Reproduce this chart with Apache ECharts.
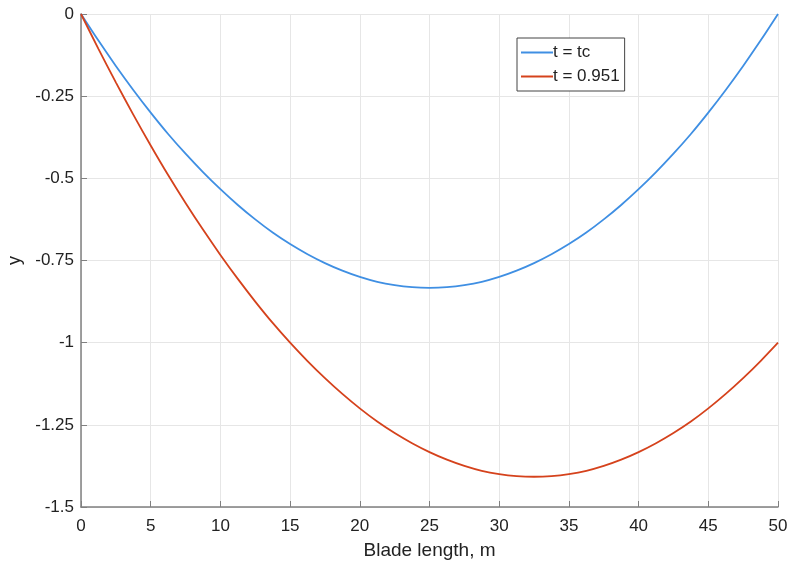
<!DOCTYPE html>
<html><head><meta charset="utf-8">
<script src="https://cdn.jsdelivr.net/npm/echarts@6/dist/echarts.min.js"></script>
<style>html,body{margin:0;padding:0;background:#fff}#c{width:790px;height:568px}</style>
</head><body><div id="c"></div>
<script>
const xValues = [0,1.25,2.5,3.75,5,6.25,7.5,8.75,10,11.25,12.5,13.75,15,16.25,17.5,18.75,20,21.25,22.5,23.75,25,
                 26.25,27.5,28.75,30,31.25,32.5,33.75,35,36.25,37.5,38.75,40,41.25,42.5,43.75,45,46.25,47.5,48.75,50];
const blueValues = [0,-0.081,-0.158,-0.231,-0.3,-0.365,-0.425,-0.481,-0.533,-0.581,-0.625,-0.665,-0.7,-0.731,-0.758,-0.781,-0.8,-0.815,-0.825,-0.831,-0.833,
                    -0.831,-0.825,-0.815,-0.8,-0.781,-0.758,-0.731,-0.7,-0.665,-0.625,-0.581,-0.533,-0.481,-0.425,-0.365,-0.3,-0.231,-0.158,-0.081,0];
const redValues = [0,-0.106,-0.208,-0.306,-0.4,-0.49,-0.575,-0.656,-0.733,-0.806,-0.875,-0.94,-1.0,-1.056,-1.108,-1.156,-1.2,-1.24,-1.275,-1.306,-1.333,
                   -1.356,-1.375,-1.39,-1.4,-1.406,-1.408,-1.406,-1.4,-1.39,-1.375,-1.356,-1.333,-1.306,-1.275,-1.24,-1.2,-1.156,-1.108,-1.056,-1.0];
const seriesNames = ['t = tc','t = 0.951'];
const xTitle = 'Blade length, m';
const yTitle = 'y';

const font = 'Liberation Sans, Arial, sans-serif';
const chart = echarts.init(document.getElementById('c'), null, {renderer:'canvas'});
chart.setOption({
  animation:false,
  grid:{left:81,right:12,top:14,bottom:61,outerBoundsMode:'none',containLabel:false},
  legend:{
    orient:'vertical', left:517, top:38,
    data:seriesNames,
    backgroundColor:'#fff',
    borderColor:'#444', borderWidth:1,
    padding:[6,5,6,4], itemGap:7,
    itemWidth:32, itemHeight:2,
    icon:'rect',
    textStyle:{fontFamily:font,fontSize:17,color:'#222',padding:[0,0,0,-5]}
  },
  xAxis:{
    type:'value', min:0, max:50, interval:5,
    name:xTitle, nameLocation:'middle', nameGap:34,
    nameTextStyle:{fontFamily:font,fontSize:19,color:'#222'},
    axisLine:{onZero:false,lineStyle:{color:'#808080',width:1.5}},
    axisTick:{inside:true,length:6,lineStyle:{color:'#808080'}},
    axisLabel:{fontFamily:font,fontSize:17,color:'#222',margin:11},
    splitLine:{show:true,lineStyle:{color:'#e6e6e6',width:1}}
  },
  yAxis:{
    type:'value', min:-1.5, max:0, interval:0.25,
    name:yTitle, nameLocation:'middle', nameGap:54, nameRotate:90,
    nameTextStyle:{fontFamily:font,fontSize:18,color:'#222'},
    axisLine:{show:true,onZero:false,lineStyle:{color:'#808080',width:1.5}},
    axisTick:{show:true,inside:true,length:6,lineStyle:{color:'#808080'}},
    axisLabel:{fontFamily:font,fontSize:17,color:'#222',margin:7},
    splitLine:{show:true,lineStyle:{color:'#e6e6e6',width:1}}
  },
  series:[
    {name:seriesNames[0],type:'line',smooth:0.3,showSymbol:false,
     data:xValues.map((x,i)=>[x,blueValues[i]]),
     lineStyle:{color:'#3f8fe3',width:1.8},itemStyle:{color:'#3f8fe3'}},
    {name:seriesNames[1],type:'line',smooth:0.3,showSymbol:false,
     data:xValues.map((x,i)=>[x,redValues[i]]),
     lineStyle:{color:'#d5421c',width:1.8},itemStyle:{color:'#d5421c'}}
  ]
});
</script></body></html>
